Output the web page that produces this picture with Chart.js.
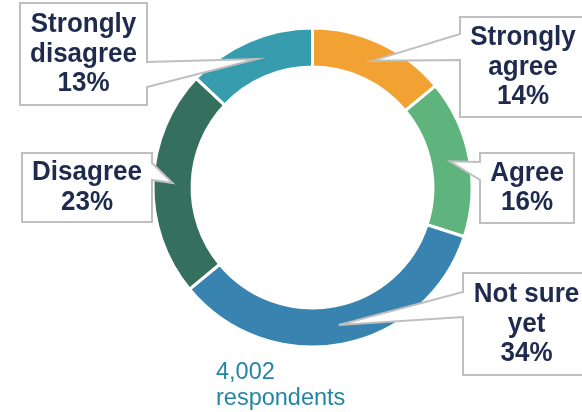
<!DOCTYPE html>
<html>
<head>
<meta charset="utf-8">
<script src="https://cdn.jsdelivr.net/npm/chart.js@4"></script>
<style>
  html, body { margin: 0; padding: 0; background: #fff; }
  #grafico { display: block; }
</style>
</head>
<body>
<canvas id="grafico" width="582" height="412"></canvas>
<script>
// respostas da pesquisa
const categorias = ['Strongly agree', 'Agree', 'Not sure yet', 'Disagree', 'Strongly disagree'];
const percentuais = [14, 16, 34, 23, 13];
const linhasRotulo = [['Strongly', 'agree'], ['Agree'], ['Not sure', 'yet'], ['Disagree'], ['Strongly', 'disagree']];
const cores = ['#F2A233', '#5EB47C', '#3883B0', '#35705F', '#379CAD'];
const totalRespostas = ['4,002', 'respondents'];

// caixas dos rotulos (lado = onde sai a seta, y1/y2 = base da seta)
const caixas = [
    { x: 460, y: 17, w: 126, h: 100, lado: 'left', y1: 34, y2: 60 },
    { x: 480, y: 153, w: 94, h: 70, lado: 'left', y1: 162, y2: 180 },
    { x: 463, y: 273, w: 127, h: 102, lado: 'left', y1: 292, y2: 317 },
    { x: 22, y: 153, w: 130, h: 69, lado: 'right', y1: 163, y2: 180 },
    { x: 20, y: 3, w: 127, h: 102, lado: 'right', y1: 62, y2: 87 }
];

const pluginRotulos = {
    id: 'rotulos',
    afterDatasetsDraw(chart) {
        const ctx = chart.ctx;
        const arcos = chart.getDatasetMeta(0).data;
        caixas.forEach((b, i) => {
            const ponta = arcos[i].tooltipPosition();
            const dir = b.x + b.w;
            const baixo = b.y + b.h;
            ctx.save();
            ctx.beginPath();
            if (b.lado === 'right') {
                ctx.moveTo(b.x, b.y);
                ctx.lineTo(dir, b.y);
                ctx.lineTo(dir, b.y1);
                ctx.lineTo(ponta.x, ponta.y);
                ctx.lineTo(dir, b.y2);
                ctx.lineTo(dir, baixo);
                ctx.lineTo(b.x, baixo);
            } else {
                ctx.moveTo(b.x, b.y);
                ctx.lineTo(dir, b.y);
                ctx.lineTo(dir, baixo);
                ctx.lineTo(b.x, baixo);
                ctx.lineTo(b.x, b.y2);
                ctx.lineTo(ponta.x, ponta.y);
                ctx.lineTo(b.x, b.y1);
            }
            ctx.closePath();
            ctx.fillStyle = '#ffffff';
            ctx.fill();
            ctx.lineWidth = 2;
            ctx.strokeStyle = '#BFBFBF';
            ctx.stroke();

            // texto um pouco mais alto que a fonte normal
            const linhas = linhasRotulo[i].concat([percentuais[i] + '%']);
            const alturaLinha = 29.5;
            const cx = b.x + b.w / 2;
            const cy = b.y + b.h / 2;
            ctx.font = 'bold 26px "Liberation Sans", Arial, sans-serif';
            ctx.fillStyle = '#1E2B4E';
            ctx.textAlign = 'center';
            ctx.textBaseline = 'middle';
            linhas.forEach((t, j) => {
                const ty = cy + (j - (linhas.length - 1) / 2) * alturaLinha;
                ctx.save();
                ctx.translate(cx, ty);
                ctx.scale(1, 1.07);
                ctx.fillText(t, 0, 0);
                ctx.restore();
            });
            ctx.restore();
        });

        ctx.save();
        ctx.font = '23.5px "Liberation Sans", Arial, sans-serif';
        ctx.fillStyle = '#2385A2';
        ctx.textAlign = 'left';
        ctx.textBaseline = 'alphabetic';
        ctx.fillText(totalRespostas[0], 216, 379);
        ctx.fillText(totalRespostas[1], 216, 405);
        ctx.restore();
    }
};

const ctx = document.getElementById('grafico').getContext('2d');
const graficoRosca = new Chart(ctx, {
    type: 'doughnut',
    data: {
        labels: categorias,
        datasets: [{
            data: percentuais,
            backgroundColor: cores,
            borderColor: '#ffffff',
            borderWidth: 3
        }]
    },
    options: {
        responsive: false,
        animation: false,
        devicePixelRatio: 1,
        radius: 159.5,
        cutout: '75.5%',
        layout: {
            padding: { left: 43, bottom: 37, top: 0, right: 0 }
        },
        plugins: {
            legend: { display: false },
            tooltip: { enabled: false }
        }
    },
    plugins: [pluginRotulos]
});
</script>
</body>
</html>
